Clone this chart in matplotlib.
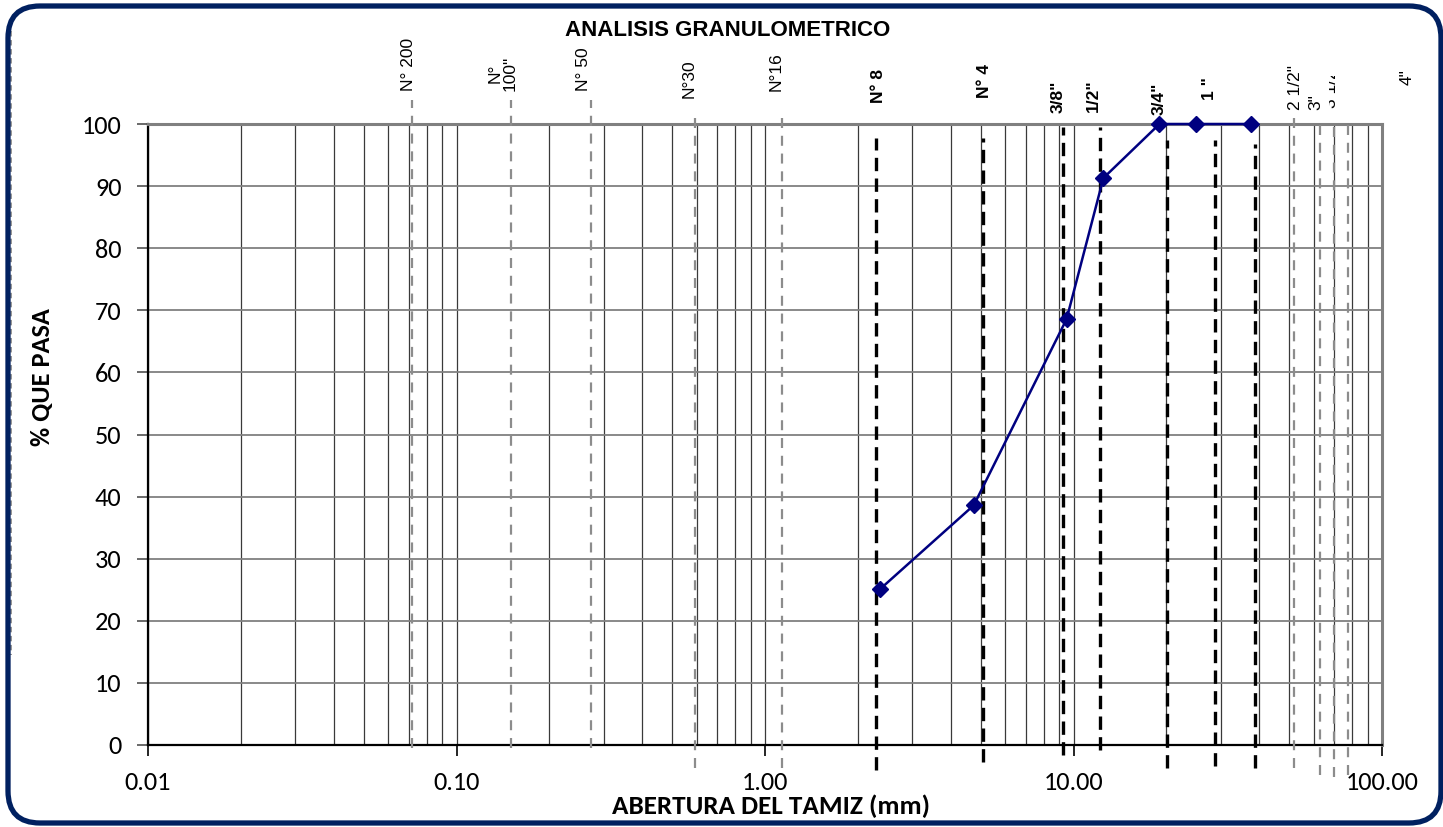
import matplotlib

matplotlib.use("Agg")
import matplotlib.pyplot as plt
from matplotlib import font_manager
from matplotlib.lines import Line2D
from matplotlib.patches import FancyBboxPatch
from matplotlib.ticker import FixedLocator, FixedFormatter, LogLocator, NullFormatter
from matplotlib.transforms import Bbox


def pick_font(names):
    # primera familia instalada de la lista
    for name in names:
        try:
            font_manager.findfont(name, fallback_to_default=False)
            return name
        except ValueError:
            continue
    return "DejaVu Sans"


TITLE_FONT = pick_font(["Liberation Sans Narrow", "Liberation Sans"])
ARIAL = pick_font(["Liberation Sans", "Arial"])
CALIBRI = pick_font(["Carlito", "Lato", "Open Sans"])

# Curva granulometrica (abertura en mm, % que pasa)
abertura_mm = [2.36, 4.75, 9.5, 12.5, 19.0, 25.0, 37.5]
pct_pasa = [25.1, 38.6, 68.6, 91.3, 100.0, 100.0, 100.0]

# Lineas de referencia de los tamices
tamiz_nombre = ["N° 200", "N°\n100\"", "N° 50", "N°30", "N°16", "N° 8", "N° 4",
                "3/8\"", "1/2\"", "3/4\"", "1 \"", "", "2 1/2\"", "3\"", "3 1/2\"", "4\""]
tamiz_x = [0.0718, 0.150, 0.273, 0.593, 1.135, 2.29, 5.09,
           9.25, 12.19, 20.1, 28.7, 38.7, 51.9, 63.0, 69.9, 77.6]
tamiz_etiqueta_x = [0.070, 0.141, 0.258, 0.567, 1.085, 2.33, 5.16,
                    8.92, 11.6, 18.9, 27.6, 38.7, 52.5, 61.0, 68.5, 120.5]
tamiz_negrita = [False, False, False, False, False, True, True,
                 True, True, True, True, True, False, False, False, False]
linea_top = [103.9, 103.9, 103.9, 101.3, 101.3, 97.7, 97.7,
             99.5, 99.5, 97.4, 97.4, 96.7, 101.8, 99.8, 99.8, 99.8]
linea_bot = [-0.5, -0.5, -0.5, -3.7, -3.7, -4.0, -2.8,
             -1.6, -0.8, -3.7, -3.4, -3.7, -3.7, -4.8, -5.1, -4.8]
etiqueta_y = [105.3, 105.3, 105.3, 104.2, 105.3, 103.4, 104.2,
              101.8, 102.0, 101.4, 103.9, 0.0, 102.3, 102.3, 102.6, 106.3]

y_ticks = [0, 10, 20, 30, 40, 50, 60, 70, 80, 90, 100]
x_ticks = [0.01, 0.1, 1, 10, 100]
x_tick_labels = ["0.01", "0.10", "1.00", "10.00", "100.00"]

fig = plt.figure(figsize=(14.43, 8.27), dpi=100)
fig.patch.set_facecolor("white")
ax = fig.add_axes([148 / 1443, 82 / 827, 1234 / 1443, 621 / 827])

ax.set_xscale("log")
ax.set_xlim(0.01, 100)
ax.set_ylim(0, 100)

# rejilla: verticales en cada subdivision logaritmica, horizontales cada 10 %
ax.xaxis.set_major_locator(FixedLocator(x_ticks))
ax.xaxis.set_major_formatter(FixedFormatter(x_tick_labels))
ax.xaxis.set_minor_locator(LogLocator(base=10, subs=range(2, 10)))
ax.xaxis.set_minor_formatter(NullFormatter())
ax.yaxis.set_major_locator(FixedLocator(y_ticks))
ax.grid(which="major", axis="y", color="#808080", linewidth=1.3)
ax.grid(which="both", axis="x", color="#3a3a3a", linewidth=0.9)
ax.tick_params(axis="x", which="minor", length=0)
ax.tick_params(axis="x", which="major", length=8, width=1.2, color="black",
               direction="out", pad=11, labelsize=19)
ax.tick_params(axis="y", length=8, width=1.2, color="#505050",
               direction="out", pad=11, labelsize=19)
for lbl in ax.get_xticklabels() + ax.get_yticklabels():
    lbl.set_fontfamily(CALIBRI)

for side in ("left", "bottom"):
    ax.spines[side].set_color("black")
    ax.spines[side].set_linewidth(1.6)
for side in ("top", "right"):
    ax.spines[side].set_color("#808080")
    ax.spines[side].set_linewidth(2.2)
ax.set_axisbelow(True)

# lineas discontinuas de los tamices y sus nombres
for nombre, xv, xl, neg, y0, y1, ly in zip(tamiz_nombre, tamiz_x, tamiz_etiqueta_x,
                                          tamiz_negrita, linea_top, linea_bot, etiqueta_y):
    if neg:
        ax.plot([xv, xv], [y1, y0], color="black", linewidth=2.4,
                dashes=(4, 2.2), clip_on=False, zorder=3)
    else:
        ax.plot([xv, xv], [y1, y0], color="#8c8c8c", linewidth=1.6,
                dashes=(4.5, 3.5), clip_on=False, zorder=3)
    if not nombre:
        continue
    t = ax.text(xl, ly, nombre, rotation=90, ha="center", va="bottom",
                fontsize=12.5, fontfamily=ARIAL,
                fontweight="bold" if neg else "normal",
                linespacing=0.95, clip_on=False, zorder=4)
    if nombre == "3 1/2\"":
        # etiqueta cortada por el borde de su cuadro de texto
        t.set_clip_on(True)
        t.set_clip_box(Bbox.from_extents(1329, 827 - 112, 1350, 827 - 76))

ax.plot(abertura_mm, pct_pasa, color="#000080", linewidth=1.8, marker="D",
        markersize=8.5, markerfacecolor="#000080", markeredgecolor="#000080",
        clip_on=False, zorder=5)

ax.set_ylabel("% QUE PASA", fontsize=19, fontweight="bold", fontfamily=CALIBRI)
ax.set_xlabel("ABERTURA DEL TAMIZ (mm)", fontsize=19.5, fontweight="bold",
              fontfamily=CALIBRI)
ax.yaxis.set_label_coords(-0.076, 0.592)
ax.xaxis.set_label_coords(0.505, -0.080)
fig.text(728 / 1443, 1 - 30 / 827, "ANALISIS GRANULOMETRICO", ha="center",
         va="center", fontsize=16, fontweight="bold", fontfamily=TITLE_FONT)

# marco redondeado del grafico
marco = FancyBboxPatch((0.08, 0.04), 14.33, 8.17,
                       boxstyle="round,pad=0,rounding_size=0.32",
                       transform=fig.dpi_scale_trans, facecolor="none",
                       edgecolor="#002060", linewidth=3.8, zorder=10)
fig.add_artist(marco)
fig.add_artist(Line2D([0.11, 0.11], [8.27 - 0.22, 8.27 - 6.55],
                      transform=fig.dpi_scale_trans, color="#8c8c8c",
                      linewidth=1.3, dashes=(3, 2)))

fig.savefig("out.png", dpi=100)
